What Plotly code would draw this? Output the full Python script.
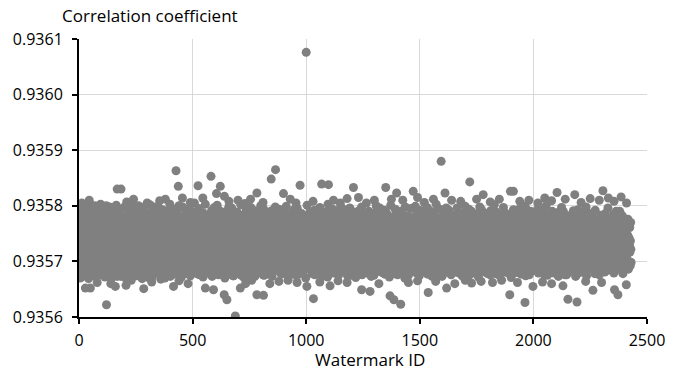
import plotly.graph_objects as go

# Correlation values are stored as offsets in units of 1e-6 above 0.9356
BASE = 0.9356
UNIT = 1e-6

# Odd watermark IDs (1, 3, 5, ... 2429)
band_values_odd = [
    132, 118, 147, 101, 165, 126, 88, 139, 154, 112, 171, 95, 143, 129, 108,
    158, 121, 77, 136, 149, 103, 184, 116, 131, 92, 162, 140, 125, 110, 152,
    97, 137, 169, 114, 128, 86, 145, 160, 119, 133, 176, 105, 141, 123, 90,
    150, 127, 113, 188, 134, 99, 146, 120, 163, 107, 138, 81, 155, 130, 117,
    142, 94, 172, 124, 109, 151, 135, 100, 167, 122, 84, 144, 157, 111, 128,
    179, 104, 139, 148, 93, 126, 161, 115, 136, 73, 153, 119, 131, 106, 168,
    122, 145, 98, 137, 159, 112, 181, 127, 89, 149, 134, 102, 164, 118, 140,
    108, 156, 130, 91, 174, 121, 143, 116, 135, 192, 101, 147, 125, 83, 152,
    138, 113, 166, 96, 129, 154, 110, 141, 79, 133, 170, 105, 144, 123, 158,
    87, 132, 148, 119, 177, 103, 137, 126, 160, 95, 142, 114, 131, 185, 109,
    150, 124, 71, 139, 163, 117, 128, 100, 155, 136, 92, 146, 121, 173, 111,
    134, 157, 105, 143, 127, 186, 98, 140, 115, 151, 85, 130, 167, 120, 145,
    103, 138, 161, 93, 124, 149, 112, 178, 132, 107, 154, 126, 76, 141, 118,
    159, 97, 135, 122, 169, 110, 147, 129, 88, 144, 137, 194, 104, 152, 125,
    116, 142, 131, 99, 164, 120, 137, 82, 156, 113, 128, 171, 108, 145, 133,
    148, 90, 127, 153, 117, 180, 101, 139, 124, 162, 94, 134, 111, 146, 129,
    175, 106, 141, 119, 135, 86, 158, 126, 145, 102, 166, 115, 130, 189, 97,
    123, 150, 112, 137, 78, 143, 128, 160, 105, 132, 118, 172, 91, 147, 136,
    109, 155, 128, 95, 168, 121, 140, 114, 183, 131, 100, 149, 125, 84, 144,
    138, 117, 163, 104, 133, 152, 89, 127, 146, 111, 176, 122, 139, 96, 157,
    126, 80, 142, 134, 118, 165, 107, 150, 129, 191, 113, 136, 98, 154, 121,
    147, 132, 103, 170, 124, 139, 87, 158, 116, 143, 128, 106, 162, 135, 92,
    119, 156, 130, 145, 99, 178, 123, 110, 151, 137, 74, 141, 127, 167, 114,
    160, 101, 138, 125, 149, 115, 133, 182, 94, 146, 120, 157, 108, 131, 142,
    88, 135, 166, 112, 128, 153, 104, 140, 124, 171, 97, 148, 117, 136, 82,
    144, 122, 109, 159, 131, 93, 147, 126, 187, 113, 139, 161, 102, 129, 152,
    115, 173, 137, 100, 143, 120, 155, 85, 134, 108, 164, 127, 145, 118, 96,
    132, 150, 111, 140, 76, 157, 125, 138, 103, 169, 121, 149, 90, 136, 179,
    106, 128, 146, 119, 161, 98, 134, 113, 152, 130, 186, 110, 142, 124, 87,
    158, 117, 135, 172, 101, 144, 127, 92, 149, 139, 116, 163, 105, 131, 147,
    123, 95, 154, 129, 141, 107, 176, 120, 137, 83, 145, 132, 112, 160, 126,
    140, 109, 167, 118, 134, 150, 99, 128, 193, 114, 143, 124, 156, 88, 136,
    102, 148, 130, 162, 111, 139, 121, 79, 153, 133, 108, 170, 127, 145, 115,
    168, 125, 91, 142, 136, 119, 157, 104, 131, 147, 184, 112, 138, 97, 151,
    129, 113, 146, 78, 135, 164, 122, 140, 106, 155, 126, 93, 143, 174, 117,
    137, 159, 100, 131, 120, 148, 86, 139, 115, 166, 130, 109, 152, 124, 141,
    94, 144, 128, 177, 110, 136, 153, 118, 133, 103, 161, 127, 190, 121, 146,
    114, 132, 165, 97, 141, 125, 108, 150, 137, 84, 145, 119, 158, 134, 105,
    152, 123, 139, 116, 173, 101, 130, 147, 90, 138, 126, 163, 111, 143, 129,
    107, 170, 134, 121, 149, 95, 157, 117, 135, 181, 104, 142, 128, 75, 154,
    136, 112, 145, 160, 98, 131, 122, 150, 109, 140, 167, 118, 133, 92, 147,
    125, 154, 103, 138, 127, 188, 114, 143, 130, 99, 156, 120, 137, 110, 164,
    89, 141, 129, 151, 117, 134, 105, 171, 123, 146, 136, 81, 153, 128, 112,
    148, 96, 162, 131, 140, 119, 155, 108, 127, 144, 100, 175, 124, 139, 115,
    133, 126, 87, 149, 113, 137, 160, 102, 142, 130, 118, 159, 94, 135, 183,
    110, 145, 132, 121, 168, 106, 139, 126, 151, 77, 134, 148, 116, 129, 157,
    142, 101, 136, 155, 124, 115, 144, 192, 111, 132, 163, 97, 140, 122, 150,
    118, 166, 127, 93, 147, 135, 109, 152, 128, 119, 141, 85, 158, 131, 104,
    139, 123, 149, 114, 172, 100, 133, 145, 120, 161, 107, 137, 126, 179, 112,
    155, 91, 128, 143, 117, 138, 153, 103, 129, 146, 134, 115, 167, 96, 140,
    121, 147, 113, 178, 130, 109, 156, 124, 82, 142, 135, 119, 150, 127, 162,
    98, 137, 160, 125, 144, 111, 132, 185, 118, 148, 102, 139, 126, 155, 89,
    134, 116, 151, 106, 128, 169, 121, 140, 95, 136, 158, 113, 145, 130, 108,
    146, 127, 99, 164, 133, 117, 149, 80, 138, 124, 171, 110, 142, 152, 120,
    112, 159, 136, 128, 104, 145, 131, 176, 119, 93, 141, 126, 154, 107, 137,
    165, 123, 146, 114, 139, 100, 157, 132, 125, 149, 86, 143, 118, 170, 129,
    108, 142, 121, 155, 96, 134, 148, 111, 181, 127, 138, 115, 160, 102, 145,
    131, 175, 109, 137, 126, 152, 119, 90, 144, 133, 105, 163, 122, 140, 116,
    150, 97, 139, 128, 161, 113, 146, 124, 135, 187, 101, 130, 156, 118, 84,
    127, 143, 116, 173, 106, 138, 131, 152, 92, 147, 122, 166, 110, 136, 141,
    103, 158, 132, 120, 145, 79, 134, 161, 115, 129, 150, 99, 142, 125, 177,
    139, 114, 153, 107, 137, 126, 170, 96, 144, 119, 135, 157, 112, 148, 130,
    121, 164, 98, 141, 131, 110, 149, 124, 184, 136, 105, 155, 128, 88, 146,
    133, 108, 159, 127, 117, 143, 101, 138, 152, 120, 168, 113, 140, 132, 94,
    154, 125, 137, 172, 111, 147, 129, 104, 144, 135, 118, 160, 83, 139, 123,
    106, 150, 119, 142, 165, 97, 134, 126, 157, 112, 140, 189, 121, 131, 148,
    137, 91, 146, 130, 123, 162, 109, 151, 136, 102, 145, 127, 174, 115, 133,
    116, 156, 128, 100, 141, 134, 119, 167, 107, 148, 125, 95, 153, 139, 111,
    149, 120, 138, 158, 87, 132, 143, 114, 176, 126, 137, 104, 150, 122, 163,
    99, 145, 127, 115, 154, 131, 190, 110, 140, 124, 160, 93, 136, 147, 118,
    135, 169, 105, 143, 121, 150, 128, 138, 98, 157, 116, 132, 179, 109, 142,
    126, 112, 152, 134, 76, 145, 123, 161, 107, 139, 129, 148, 117, 166, 101,
    158, 133, 117, 141, 128, 100, 155, 136, 120, 172, 111, 146, 90, 137, 124,
    143, 106, 163, 119, 147, 131, 114, 150, 125, 184, 97, 138, 127, 156, 113,
    121, 148, 92, 135, 157, 109, 142, 130, 165, 118, 144, 103, 153, 86, 136,
    160, 128, 139, 110, 173, 124, 98, 147, 132, 116, 151, 137, 121, 162, 105,
    134, 115, 150, 127, 141, 96, 168, 122, 138, 153, 111, 180, 129, 100, 145,
    119, 157, 107, 139, 131, 148, 118, 87, 155, 126, 143, 113, 136, 167, 124,
    146, 102, 132, 161, 120, 136, 150, 109, 140, 130, 94, 158, 117, 143, 128,
    112, 149, 137, 116, 178, 125, 103, 145, 133, 162, 121, 139, 108, 151, 99,
    135, 126, 154, 118, 140, 131, 113, 147, 124, 96, 142, 129, 117, 137, 122,
]

# Even watermark IDs (2, 4, 6, ... 2430)
band_values_even = [
    176, 94, 188, 71, 162, 105, 197, 83, 171, 150, 99, 185, 77, 166, 110,
    193, 88, 158, 102, 181, 69, 174, 96, 203, 85, 160, 107, 190, 79, 168,
    91, 183, 74, 170, 104, 195, 87, 163, 112, 178, 97, 156, 81, 199, 101,
    165, 76, 186, 93, 173, 108, 159, 84, 191, 98, 177, 72, 169, 103, 200,
    86, 161, 109, 184, 78, 196, 95, 167, 100, 180, 68, 175, 90, 157, 106,
    189, 82, 172, 111, 164, 89, 201, 75, 179, 97, 155, 104, 187, 80, 170,
    102, 194, 73, 168, 92, 182, 108, 160, 86, 198, 95, 176, 70, 163, 110,
    178, 99, 157, 83, 192, 77, 171, 105, 185, 91, 166, 112, 204, 88, 174,
    94, 169, 81, 188, 103, 162, 74, 180, 98, 158, 107, 195, 85, 173, 100,
    183, 90, 176, 69, 165, 110, 197, 87, 156, 101, 189, 79, 170, 96, 161,
    106, 186, 76, 174, 93, 202, 84, 167, 111, 179, 72, 159, 104, 192, 89,
    164, 97, 181, 80, 171, 108, 155, 92, 199, 78, 175, 102, 168, 86, 187,
    75, 172, 100, 193, 88, 160, 113, 184, 70, 166, 95, 177, 82, 157, 109,
    190, 85, 163, 106, 178, 73, 196, 99, 170, 90, 158, 111, 185, 77, 173,
    103, 181, 79, 167, 96, 189, 87, 161, 107, 200, 83, 175, 94, 164, 71,
    177, 92, 198, 84, 169, 104, 156, 78, 186, 101, 172, 89, 162, 110, 194,
    81, 166, 105, 179, 74, 191, 97, 174, 86, 160, 112, 183, 93, 205, 98,
    171, 88, 159, 109, 187, 80, 168, 102, 195, 76, 178, 94, 163, 107, 182,
    97, 188, 72, 176, 100, 165, 85, 203, 91, 170, 106, 157, 79, 184, 103,
    160, 111, 182, 87, 174, 95, 192, 73, 167, 108, 179, 82, 197, 99, 156,
    108, 173, 84, 201, 96, 162, 76, 185, 104, 169, 89, 177, 110, 158, 78,
    186, 101, 165, 90, 180, 70, 172, 98, 190, 83, 161, 105, 175, 92, 199,
    77, 158, 109, 184, 86, 196, 102, 168, 74, 181, 96, 164, 87, 188, 106,
    175, 93, 189, 80, 163, 112, 177, 88, 159, 100, 202, 75, 170, 97, 183,
    99, 180, 71, 171, 105, 157, 91, 193, 82, 166, 110, 186, 78, 173, 94,
    167, 87, 197, 103, 176, 79, 162, 107, 183, 94, 156, 73, 191, 101, 170,
    92, 184, 98, 160, 81, 188, 111, 174, 85, 200, 90, 167, 104, 178, 76,
    195, 75, 169, 95, 182, 106, 158, 89, 172, 78, 187, 99, 164, 113, 176,
    84, 174, 108, 191, 73, 165, 97, 179, 102, 161, 86, 198, 92, 170, 105,
    181, 100, 156, 83, 194, 90, 173, 110, 166, 77, 185, 96, 159, 81, 190,
    107, 163, 91, 176, 104, 199, 80, 168, 95, 183, 72, 171, 109, 162, 88,
    173, 79, 187, 98, 158, 86, 180, 103, 193, 91, 165, 106, 177, 74, 196,
    95, 190, 77, 164, 111, 172, 93, 157, 84, 186, 101, 169, 80, 182, 99,
    158, 104, 179, 70, 170, 97, 201, 87, 175, 108, 160, 90, 188, 102, 166,
    89, 168, 96, 185, 82, 161, 106, 192, 76, 178, 94, 174, 111, 157, 85,
    184, 78, 171, 109, 197, 92, 165, 81, 182, 100, 159, 74, 170, 96, 189,
    101, 177, 86, 163, 94, 180, 72, 203, 98, 167, 105, 187, 83, 175, 107,
    162, 97, 194, 79, 176, 103, 158, 91, 171, 86, 190, 110, 166, 77, 181,
    75, 186, 102, 170, 88, 199, 95, 164, 108, 179, 81, 160, 99, 193, 90,
    178, 92, 161, 112, 183, 74, 174, 100, 156, 87, 196, 104, 172, 84, 165,
    104, 169, 80, 189, 97, 159, 109, 181, 71, 175, 93, 163, 102, 186, 78,
    191, 85, 177, 101, 166, 88, 198, 76, 170, 111, 184, 96, 157, 90, 173,
    96, 160, 113, 182, 79, 172, 98, 190, 84, 162, 106, 179, 73, 168, 101,
    170, 89, 186, 75, 164, 105, 176, 93, 200, 82, 158, 108, 187, 97, 161,
    83, 196, 94, 173, 107, 157, 80, 180, 101, 169, 91, 192, 77, 177, 110,
    188, 103, 166, 86, 183, 99, 162, 72, 174, 95, 201, 85, 165, 106, 179,
    98, 175, 78, 159, 110, 194, 89, 171, 104, 185, 76, 168, 100, 155, 92,
    164, 81, 190, 97, 172, 84, 185, 108, 161, 93, 176, 70, 198, 103, 169,
    109, 182, 91, 167, 75, 178, 102, 158, 88, 195, 99, 163, 82, 173, 96,
    176, 96, 156, 105, 199, 87, 169, 79, 187, 107, 160, 94, 181, 74, 192,
    90, 167, 100, 184, 83, 163, 111, 175, 97, 157, 86, 189, 105, 170, 80,
    197, 77, 173, 94, 162, 109, 191, 85, 178, 101, 166, 73, 183, 98, 158,
    102, 188, 84, 169, 96, 203, 78, 164, 112, 176, 90, 159, 107, 194, 87,
    160, 108, 180, 73, 174, 92, 157, 103, 185, 80, 171, 99, 196, 83, 168,
    85, 172, 97, 192, 106, 165, 88, 181, 76, 162, 110, 178, 94, 158, 104,
    183, 91, 160, 81, 177, 100, 196, 86, 167, 96, 188, 79, 173, 108, 163,
    110, 178, 74, 186, 89, 170, 105, 159, 95, 199, 83, 166, 101, 180, 71,
    167, 95, 194, 104, 163, 77, 175, 92, 190, 109, 157, 87, 170, 99, 185,
    79, 161, 107, 177, 85, 184, 96, 168, 72, 173, 103, 198, 90, 162, 111,
    193, 84, 170, 98, 158, 110, 180, 81, 164, 94, 186, 105, 176, 78, 159,
    100, 184, 91, 165, 76, 191, 102, 171, 87, 156, 107, 174, 82, 202, 95,
    174, 78, 189, 108, 179, 93, 160, 99, 183, 75, 167, 112, 162, 89, 181,
    87, 163, 103, 197, 82, 168, 95, 187, 105, 176, 80, 158, 97, 175, 106,
    179, 99, 157, 90, 185, 71, 172, 109, 161, 88, 193, 101, 166, 84, 170,
    94, 188, 80, 174, 100, 164, 86, 178, 113, 195, 92, 169, 77, 184, 102,
    162, 106, 182, 85, 160, 97, 199, 74, 173, 104, 156, 91, 187, 108, 165,
    76, 171, 96, 190, 91, 176, 110, 163, 83, 181, 98, 162, 105, 170, 88,
    186, 89, 165, 103, 195, 79, 169, 94, 158, 112, 177, 85, 160, 96, 192,
    105, 158, 77, 180, 87, 166, 101, 200, 92, 172, 75, 185, 99, 164, 81,
    171, 97, 185, 92, 157, 108, 181, 88, 168, 79, 161, 106, 178, 93, 174,
    82, 176, 104, 162, 73, 189, 98, 173, 107, 184, 90, 197, 86, 167, 100,
    190, 86, 173, 111, 168, 96, 160, 76, 176, 101, 165, 80, 182, 109, 157,
    97, 164, 88, 182, 102, 157, 84, 191, 95, 162, 108, 175, 73, 170, 92,
    159, 110, 193, 79, 171, 104, 185, 97, 172, 87, 179, 99, 163, 81, 188,
    108, 181, 83, 166, 93, 198, 74, 162, 103, 187, 91, 158, 111, 177, 95,
    185, 94, 162, 102, 180, 87, 170, 106, 159, 78, 192, 97, 168, 85, 163,
    90, 167, 109, 175, 76, 163, 100, 183, 89, 170, 105, 160, 93, 181, 98,
    174, 81, 186, 95, 160, 111, 178, 84, 196, 102, 157, 88, 176, 104, 166,
    103, 159, 92, 171, 98, 184, 79, 165, 108, 174, 85, 190, 96, 160, 90,
    168, 100, 178, 86, 190, 94, 163, 101, 157, 91, 182, 78, 171, 107, 176,
    95, 173, 88, 160, 104, 168, 97, 176, 86, 165, 100, 161, 92, 170, 98,
]

band_ids_odd = list(range(1, 2 * len(band_values_odd), 2))
band_ids_even = list(range(2, 2 * len(band_values_even) + 1, 2))

# Scattered points outside the dense band (ID, offset)
edge_ids = [
    12, 45, 70, 95, 135, 168, 185, 210, 240, 262, 300, 330, 355, 380, 400, 427, 437, 455,
    490, 524, 545, 581, 605, 622, 640, 660, 700, 730, 755, 783, 810, 846, 865, 900, 930,
    955, 973, 1000, 1030, 1068, 1098, 1120, 1150, 1180, 1208, 1230, 1265, 1300, 1350,
    1375, 1398, 1425, 1471, 1490, 1520, 1560, 1594, 1611, 1640, 1680, 1720, 1750, 1779,
    1810, 1850, 1899, 1912, 1940, 1980, 2020, 2050, 2080, 2104, 2140, 2182, 2210, 2250,
    2290, 2306, 2330, 2355, 2386, 2410,
    5, 28, 50, 80, 121, 140, 160, 207, 230, 285, 320, 360, 416, 440, 480, 556, 592, 639,
    651, 688, 710, 733, 760, 783, 812, 840, 880, 920, 960, 1003, 1032, 1060, 1105, 1140,
    1180, 1244, 1281, 1320, 1369, 1386, 1416, 1450, 1490, 1537, 1570, 1618, 1654, 1700,
    1728, 1770, 1820, 1860, 1896, 1930, 1963, 1998, 2040, 2080, 2130, 2152, 2192, 2230,
    2262, 2300, 2357, 2372, 2409,
]
edge_values = [
    205, 210, 200, 203, 198, 230, 230, 207, 212, 200, 205, 198, 209, 212, 203, 263, 235, 214,
    206, 236, 214, 253, 222, 235, 217, 208, 210, 204, 212, 223, 206, 248, 265, 222, 212,
    205, 237, 476, 208, 239, 238, 210, 205, 213, 233, 215, 205, 210, 233,
    212, 223, 210, 226, 215, 206, 212, 280, 223, 210, 208, 243, 212, 220,
    207, 212, 226, 226, 208, 210, 205, 214, 209, 224, 212, 220, 206, 213,
    210, 227, 214, 208, 216, 205,
    70, 52, 52, 62, 22, 60, 55, 57, 66, 51, 63, 68, 55, 65, 60, 52, 49, 40,
    31, 2, 52, 60, 66, 40, 39, 60, 64, 66, 62, 55, 33, 63, 56, 65,
    62, 49, 46, 60, 38, 31, 23, 62, 65, 44, 64, 52, 60, 66,
    61, 64, 62, 66, 40, 62, 26, 55, 63, 60, 56, 32, 27, 64,
    48, 62, 49, 40, 58,
]

x_tick_vals = [0, 500, 1000, 1500, 2000, 2500]
y_tick_vals = [0.9356, 0.9357, 0.9358, 0.9359, 0.9360, 0.9361]

ids = band_ids_odd + band_ids_even + edge_ids
vals = [BASE + v * UNIT for v in band_values_odd + band_values_even + edge_values]

FONT = "Open Sans"
GRAY = "#808080"

fig = go.Figure(go.Scatter(
    x=ids, y=vals, mode="markers",
    marker=dict(size=9, color=GRAY, line=dict(width=0)),
    hoverinfo="x+y",
))

fig.update_layout(
    width=681, height=373,
    margin=dict(l=79, r=34, t=39, b=56),
    paper_bgcolor="white", plot_bgcolor="white",
    showlegend=False,
    font=dict(family=FONT, size=16, color="#000000"),
    xaxis=dict(
        range=[0, 2500], tickvals=x_tick_vals, ticktext=[str(v) for v in x_tick_vals],
        showgrid=True, gridcolor="#d9d9d9", gridwidth=1,
        showline=True, linecolor="#000000", linewidth=2,
        ticks="outside", ticklen=5, tickcolor="#000000", tickwidth=1.5,
        zeroline=False, automargin=False, ticklabelstandoff=3,
        tickfont=dict(family=FONT, size=16),
    ),
    yaxis=dict(
        range=[0.9356, 0.9361], tickvals=y_tick_vals,
        ticktext=[f"{v:.4f}" for v in y_tick_vals],
        showgrid=True, gridcolor="#d9d9d9", gridwidth=1,
        showline=True, linecolor="#000000", linewidth=2,
        ticks="outside", ticklen=5, tickcolor="#000000", tickwidth=1.5,
        zeroline=False, automargin=False, ticklabelstandoff=6,
        tickfont=dict(family=FONT, size=16),
    ),
    annotations=[
        dict(text="Correlation coefficient", xref="paper", yref="paper",
             x=-0.034, y=1, xanchor="left", yanchor="middle", yshift=24,
             showarrow=False, font=dict(family=FONT, size=17)),
        dict(text="Watermark ID", xref="paper", yref="paper",
             x=0.512, y=0, xanchor="center", yanchor="middle", yshift=-42,
             showarrow=False, font=dict(family=FONT, size=17)),
    ],
)

fig.write_html(
    "out.html",
    config={"displayModeBar": False},
    post_script="document.body.style.margin='0';document.body.style.overflow='hidden';",
)
